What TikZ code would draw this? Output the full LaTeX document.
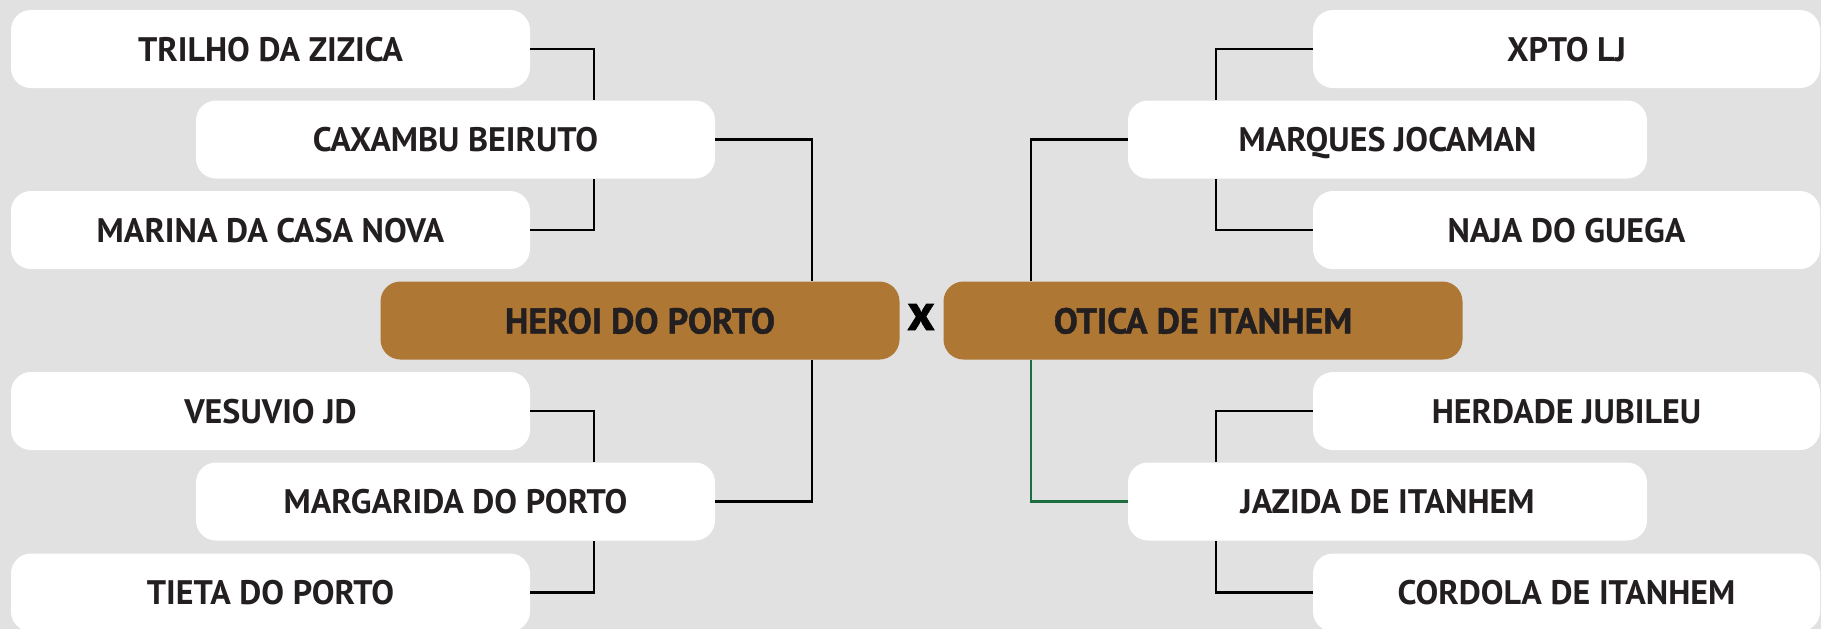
\documentclass[tikz,border=0pt]{standalone}
\usepackage{fontspec}
\setmainfont{PT Sans}
\newfontfamily\finalfont{PT Sans}[BoldFeatures={FakeBold=1.2}]
\usepackage{tikz}
\usetikzlibrary{positioning, calc}
\definecolor{bg_grey}{HTML}{E1E1E1}
\definecolor{final_brown}{HTML}{AE7734}
\definecolor{label_dark}{HTML}{231F20}
\definecolor{path_green}{HTML}{1B6E3E}
\tikzstyle{team} = [rectangle, rounded corners=10pt, fill=white, minimum width=259.5pt, minimum height=39pt, text centered, text=label_dark, font=\fontsize{17}{20}\selectfont\bfseries, text height=12pt, text depth=0pt, inner sep=0pt]
\tikzstyle{final} = [team, fill=final_brown, font=\fontsize{18}{22}\selectfont\finalfont\bfseries, text height=13pt]
\tikzstyle{link} = [line width=1.3pt, black]

\begin{document}
\begin{tikzpicture}[x=0.5pt, y=-0.5pt]
    \fill[bg_grey] (0,0) rectangle (1821,629);
    \useasboundingbox (0,0) rectangle (1821,629);
    % left half
    \node (trilho) [team] at (270.5,49) {TRILHO DA ZIZICA};
    \node (caxambu) [team] at (455.5,139.5) {CAXAMBU BEIRUTO};
    \node (marina) [team] at (270.5,230) {MARINA DA CASA NOVA};
    \node (heroi) [final] at (640,320.5) {HEROI DO PORTO};
    \node (vesuvio) [team] at (270.5,411) {VESUVIO JD};
    \node (margarida) [team] at (455.5,501.5) {MARGARIDA DO PORTO};
    \node (tieta) [team] at (270.5,592.5) {TIETA DO PORTO};
    % right half
    \node (xpto) [team, minimum width=253.5pt] at (1566.5,49) {XPTO LJ};
    \node (marques) [team] at (1387.5,139.5) {MARQUES JOCAMAN};
    \node (naja) [team, minimum width=253.5pt] at (1566.5,230) {NAJA DO GUEGA};
    \node (otica) [final] at (1203,320.5) {OTICA DE ITANHEM};
    \node (herdade) [team, minimum width=253.5pt] at (1566.5,411) {HERDADE JUBILEU};
    \node (jazida) [team] at (1387.5,501.5) {JAZIDA DE ITANHEM};
    \node (cordola) [team, minimum width=253.5pt] at (1566.5,592.5) {CORDOLA DE ITANHEM};
    \node (versus) [text=black, font=\fontsize{26}{26}\selectfont\finalfont\bfseries] at (921,317) {x};
    % junction columns
    \coordinate (jl) at (594,0);
    \coordinate (cl) at (812,0);
    \coordinate (cr) at (1031,0);
    \coordinate (jr) at (1216,0);
    \draw [link] (trilho.east) -| (jl |- caxambu.north);
    \draw [link] (marina.east) -| (jl |- caxambu.south);
    \draw [link] (vesuvio.east) -| (jl |- margarida.north);
    \draw [link] (tieta.east) -| (jl |- margarida.south);
    \draw [link] (caxambu.east) -| (cl |- heroi.north);
    \draw [link] (margarida.east) -| (cl |- heroi.south);
    \draw [link] (xpto.west) -| (jr |- marques.north);
    \draw [link] (naja.west) -| (jr |- marques.south);
    \draw [link] (herdade.west) -| (jr |- jazida.north);
    \draw [link] (cordola.west) -| (jr |- jazida.south);
    \draw [link] (marques.west) -| (cr |- otica.north);
    \draw [link, path_green] (jazida.west) -| (cr |- otica.south);
\end{tikzpicture}
\end{document}
